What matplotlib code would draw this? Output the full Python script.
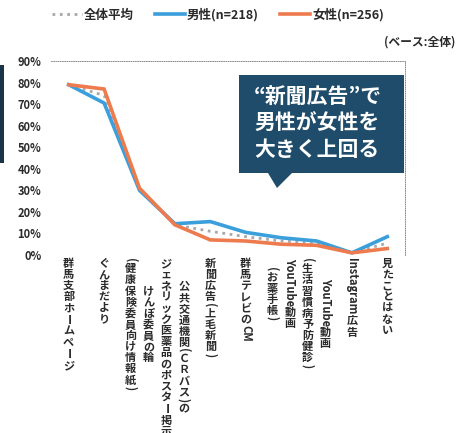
"""Line chart: recognition of each channel, by gender."""

import matplotlib

matplotlib.use("Agg")

import matplotlib.pyplot as plt
from matplotlib.lines import Line2D
from matplotlib.patches import Polygon, Rectangle

plt.rcParams["font.family"] = ["Noto Sans CJK JP", "DejaVu Sans"]

# "\n" splits a label into vertical columns, the first column is drawn rightmost
categories = [
    "群馬支部ホームページ",
    "ぐんまだより",
    "けんぽ委員の輪\n（健康保険委員向け情報紙）",
    "公共交通機関（ＣＲバス）の\nジェネリック医薬品のポスター掲示",
    "新聞広告（上毛新聞）",
    "群馬テレビのCM",
    "YouTube動画\n（お薬手帳）",
    "YouTube動画\n（生活習慣病予防健診）",
    "Instagram広告",
    "見たことはない",
]
total_avg = [79, 74, 30.5, 14, 11, 8.5, 6.5, 5.5, 1, 5.5]
male = [79, 70.5, 30, 14.5, 15.5, 10.5, 8, 6.5, 1, 8.5]
female = [79, 77, 31, 14, 7, 6.5, 5, 4.5, 1, 3]
y_ticks = [0, 10, 20, 30, 40, 50, 60, 70, 80, 90]

series_names = ["全体平均", "男性(n=218)", "女性(n=256)"]
callout_text = "“新聞広告”で\n男性が女性を\n大きく上回る"
base_note = "(ベース:全体)"

BLUE = "#3a9fdb"
ORANGE = "#ee7b4d"
GREY = "#a8a8a8"
NAVY = "#1e4c6a"
INK = "#2a2a2a"
LABEL_SIZE = 8
COL_GAP = 18  # px between label columns
ROTATED = set("()ーｰ－")

W, H = 457, 433


def split_tokens(col):
    """Cut one label column into upright CJK chars and sideways tokens (latin runs, parens, ー)."""
    col = col.replace("（", "(").replace("）", ")")
    out, buf = [], ""
    for ch in col:
        if ch.isascii() and ch not in ROTATED:
            buf += ch
            continue
        if buf:
            out.append((buf, True))
            buf = ""
        out.append((ch, ch in ROTATED))
    if buf:
        out.append((buf, True))
    return out


fig = plt.figure(figsize=(W / 100, H / 100), dpi=100)
ax = fig.add_axes([51 / W, 1 - 255 / H, 354 / W, 194 / H])
x = range(len(categories))

ax.plot(x, total_avg, color=GREY, lw=2.0, ls=":", clip_on=False, zorder=2)
ax.plot(x, male, color=BLUE, lw=2.6, solid_joinstyle="miter", clip_on=False, zorder=3)
ax.plot(x, female, color=ORANGE, lw=2.6, solid_joinstyle="miter", clip_on=False, zorder=3)

ax.set_xlim(-0.5, len(categories) - 0.5)
ax.set_ylim(0, 90)
ax.set_yticks(y_ticks)
ax.set_yticklabels([f"{v}%" for v in y_ticks], fontsize=8, fontweight="bold", color=INK)
ax.set_xticks([])
ax.tick_params(axis="y", length=0, pad=7)
ax.set_facecolor("none")
for side in ("left", "bottom"):
    ax.spines[side].set_visible(False)
for side in ("top", "right"):
    ax.spines[side].set_color("#777777")
    ax.spines[side].set_linewidth(0.6)
    ax.spines[side].set_linestyle(":")

# legend across the top
handles = [
    Line2D([], [], color=GREY, lw=2.0, ls=":"),
    Line2D([], [], color=BLUE, lw=2.6),
    Line2D([], [], color=ORANGE, lw=2.6),
]
fig.legend(
    handles, series_names, loc="center", bbox_to_anchor=(218 / W, 1 - 15 / H),
    ncol=3, frameon=False, handlelength=2.4, handletextpad=0.15, columnspacing=1.7,
    prop={"size": 9, "weight": "bold"}, labelcolor=INK,
)
fig.text(455 / W, 1 - 42 / H, base_note, ha="right", va="center",
         fontsize=8.5, fontweight="bold", color=INK)

# callout bubble
bubble = [(239, 75), (404, 75), (404, 173), (292, 173), (277, 188), (268, 173), (239, 173)]
fig.patches.append(Polygon([(px / W, 1 - py / H) for px, py in bubble], closed=True,
                           transform=fig.transFigure, facecolor=NAVY, edgecolor="none"))
fig.text(254 / W, 1 - 123 / H, callout_text, ha="left", va="center", fontsize=15,
         fontweight="bold", color="white", linespacing=1.3)

# cut-off dark panel on the left edge
fig.patches.append(Rectangle((0, 1 - 163 / H), 4 / W, 98 / H, transform=fig.transFigure,
                             facecolor="#1b3448", edgecolor="none"))

# vertical category labels, one text per character (latin runs lie sideways)
fig.canvas.draw()
renderer = fig.canvas.get_renderer()
em = LABEL_SIZE * fig.dpi / 72
y_top = ax.transAxes.transform((0, 0))[1] - 3
for i, label in enumerate(categories):
    cols = label.split("\n")
    x_px = ax.transData.transform((i, 0))[0]
    col_items = []
    for col in cols:
        items = []
        for text, rot in split_tokens(col):
            t = fig.text(0, 0, text, rotation=-90 if rot else 0, ha="center", va="center",
                         fontsize=LABEL_SIZE, fontweight="bold", color=INK)
            if rot:
                adv = t.get_window_extent(renderer).height + 1
            else:
                adv = em
            items.append((t, adv))
        col_items.append(items)
    heights = [sum(a for _, a in items) for items in col_items]
    h_max = max(heights)
    n = len(cols)
    for j, items in enumerate(col_items):
        cx = x_px + (n - 1) / 2 * COL_GAP - j * COL_GAP
        y = y_top - (h_max - heights[j]) / 2
        for t, adv in items:
            t.set_position((cx / W, (y - adv / 2) / H))
            y -= adv

fig.savefig("out.png", dpi=100)
